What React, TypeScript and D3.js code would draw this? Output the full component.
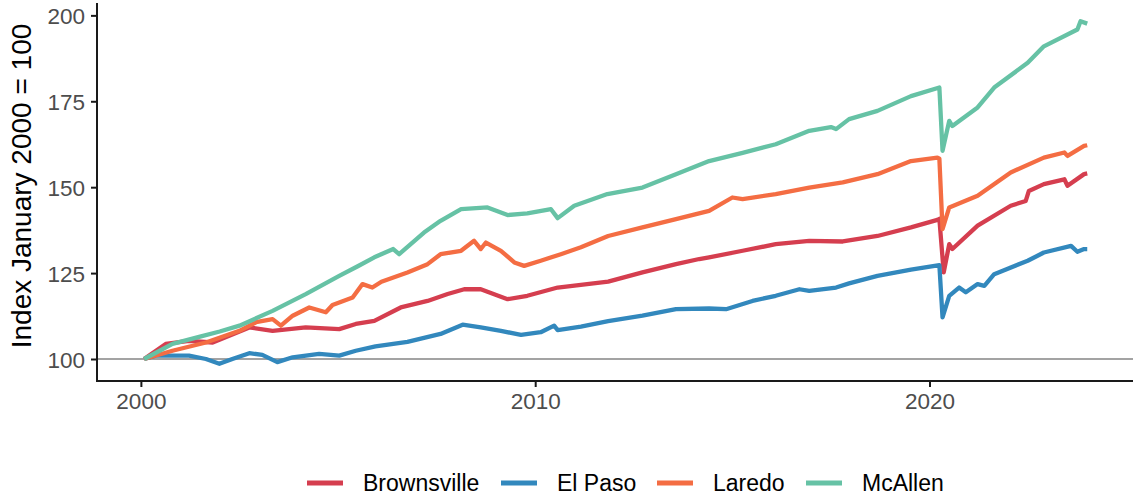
import React, { useEffect, useRef, ReactElement } from 'react'
import * as d3 from 'd3'

// readings: [decimal year, index value]
const brownsville: [number, number][] = [
  [2000.083, 100], [2000.63, 104.4], [2001.22, 105.3], [2001.82, 104.8], [2002.24, 106.8],
  [2002.75, 109.2], [2003.34, 108.2], [2004.18, 109.2], [2005.03, 108.7], [2005.45, 110.2],
  [2005.92, 111.1], [2006.59, 115], [2007.27, 116.9], [2007.78, 118.9], [2008.2, 120.3],
  [2008.62, 120.3], [2009.3, 117.4], [2009.8, 118.4], [2010.57, 120.8], [2011.85, 122.5],
  [2012.72, 125.2], [2013.57, 127.6], [2014.16, 129.1], [2014.41, 129.6], [2015.26, 131.5],
  [2016.1, 133.4], [2016.95, 134.4], [2017.8, 134.2], [2018.68, 135.8], [2019.53, 138.3],
  [2020.2, 140.5], [2020.25, 140.8], [2020.36, 125.2], [2020.5, 133.4], [2020.58, 132],
  [2021.22, 138.8], [2022.06, 144.6], [2022.44, 146], [2022.52, 148.9], [2022.9, 150.9],
  [2023.42, 152.3], [2023.5, 150.4], [2023.92, 153.8], [2024.0, 154]
]

const elPaso: [number, number][] = [
  [2000.083, 100], [2000.38, 101], [2001.22, 101], [2001.65, 100], [2001.99, 98.6],
  [2002.32, 100], [2002.75, 101.7], [2003.08, 101.2], [2003.46, 99.1], [2003.85, 100.5],
  [2004.52, 101.5], [2005.03, 101], [2005.45, 102.4], [2005.95, 103.7], [2006.76, 105],
  [2007.6, 107.3], [2008.16, 110], [2008.62, 109.2], [2009.13, 108.2], [2009.64, 107],
  [2010.14, 107.8], [2010.48, 109.7], [2010.57, 108.4], [2011.16, 109.4], [2011.85, 111],
  [2012.72, 112.6], [2013.57, 114.5], [2014.41, 114.7], [2014.84, 114.5], [2015.51, 116.9],
  [2016.1, 118.4], [2016.7, 120.3], [2016.95, 119.8], [2017.63, 120.8], [2017.96, 122],
  [2018.68, 124.2], [2019.53, 126], [2020.25, 127.3], [2020.33, 112.1], [2020.5, 118.4],
  [2020.75, 120.8], [2020.92, 119.4], [2021.22, 121.8], [2021.39, 121.3], [2021.64, 124.7],
  [2022.49, 128.6], [2022.9, 131], [2023.59, 132.9], [2023.75, 131.2], [2023.92, 132],
  [2024.0, 132]
]

const laredo: [number, number][] = [
  [2000.083, 100], [2000.8, 102.4], [2001.65, 104.8], [2002.5, 108.2], [2002.92, 110.7],
  [2003.34, 111.6], [2003.55, 109.7], [2003.85, 112.6], [2004.27, 115], [2004.69, 113.6],
  [2004.86, 115.7], [2005.37, 117.9], [2005.62, 121.8], [2005.87, 120.8], [2006.1, 122.5],
  [2006.76, 125.2], [2007.27, 127.6], [2007.6, 130.5], [2008.12, 131.5], [2008.45, 134.4],
  [2008.62, 132], [2008.75, 133.9], [2009.13, 131.5], [2009.47, 128.1], [2009.72, 127.1],
  [2010.14, 128.6], [2010.65, 130.5], [2011.16, 132.5], [2011.85, 135.8], [2012.72, 138.3],
  [2013.57, 140.7], [2014.41, 143.1], [2015.0, 147], [2015.26, 146.5], [2016.1, 148],
  [2016.95, 149.9], [2017.8, 151.4], [2018.68, 153.8], [2019.53, 157.6], [2020.2, 158.6],
  [2020.25, 158.3], [2020.33, 137.8], [2020.5, 144.1], [2021.22, 147.5], [2022.06, 154.3],
  [2022.9, 158.6], [2023.42, 160.1], [2023.5, 159.1], [2023.92, 162], [2024.0, 162.2]
]

const mcAllen: [number, number][] = [
  [2000.083, 100], [2000.8, 104.4], [2001.5, 106.5], [2002.0, 108], [2002.5, 109.7],
  [2003.34, 114], [2004.18, 118.9], [2005.03, 124.2], [2005.5, 127], [2005.92, 129.6],
  [2006.4, 132], [2006.55, 130.5], [2007.18, 136.8], [2007.6, 140.2], [2008.12, 143.6],
  [2008.79, 144.1], [2009.3, 141.9], [2009.8, 142.4], [2010.4, 143.6], [2010.57, 141],
  [2010.99, 144.6], [2011.83, 148], [2012.72, 149.9], [2013.57, 153.8], [2014.41, 157.6],
  [2015.26, 160], [2016.1, 162.5], [2016.95, 166.4], [2017.5, 167.5], [2017.63, 166.9],
  [2017.96, 169.8], [2018.68, 172.2], [2019.53, 176.5], [2020.25, 179], [2020.33, 160.6],
  [2020.5, 169.3], [2020.58, 167.8], [2021.22, 173.2], [2021.64, 179], [2022.49, 186.2],
  [2022.9, 191], [2023.75, 195.9], [2023.83, 198.3], [2024.0, 197.6]
]

const cities = ['Brownsville', 'El Paso', 'Laredo', 'McAllen']
const cityColors = ['#D53E4F', '#3288BD', '#F46D43', '#66C2A5']
const yTicks = [100, 125, 150, 175, 200]
const xTicks = [2000, 2010, 2020]

const FONT = '"Liberation Sans", Arial, sans-serif'

const App = (): ReactElement => {
  const ref = useRef<SVGSVGElement>(null)

  const drawChart = () => {
    const width = 1133
    const svg = d3.select(ref.current)
    svg.selectAll('*').remove()

    const left = 97
    const bottom = 381

    const x = d3.scaleLinear().domain([1998.887, 2025.196]).range([left, 1134.4])
    const y = d3.scaleLinear().domain([93.6, 203.6]).range([bottom, 3])

    const series = [brownsville, elPaso, laredo, mcAllen]

    // reference line at 100
    svg.append('line')
      .attr('x1', left).attr('x2', width)
      .attr('y1', y(100)).attr('y2', y(100))
      .attr('stroke', '#A3A3A3')
      .attr('stroke-width', 2)

    const line = d3.line<[number, number]>()
      .x(d => x(d[0]))
      .y(d => y(d[1]))

    svg.append('g')
      .selectAll('path')
      .data(series)
      .join('path')
      .attr('d', d => line(d))
      .attr('fill', 'none')
      .attr('stroke', (d, i) => cityColors[i])
      .attr('stroke-width', 4.3)
      .attr('stroke-linejoin', 'round')

    // axes
    const yAxis = svg.append('g').attr('transform', `translate(${left},0)`)
      .call(d3.axisLeft(y).tickValues(yTicks).tickSize(6).tickPadding(6))
    const xAxis = svg.append('g').attr('transform', `translate(0,${bottom})`)
      .call(d3.axisBottom(x).tickValues(xTicks).tickFormat(d3.format('d')).tickSize(6).tickPadding(6))

    for (const ax of [yAxis, xAxis]) {
      ax.select('.domain').remove()
      ax.selectAll('.tick line').attr('stroke', '#1A1A1A').attr('stroke-width', 2)
      ax.selectAll('.tick text')
        .attr('fill', '#4D4D4D')
        .style('font-family', FONT)
        .style('font-size', '22.5px')
    }
    yAxis.selectAll('.tick text').attr('dy', '0.36em')

    svg.append('line')
      .attr('x1', left).attr('x2', left)
      .attr('y1', 3).attr('y2', bottom + 1)
      .attr('stroke', '#1A1A1A').attr('stroke-width', 2)
    svg.append('line')
      .attr('x1', left - 1).attr('x2', width)
      .attr('y1', bottom).attr('y2', bottom)
      .attr('stroke', '#1A1A1A').attr('stroke-width', 2)

    // y title
    svg.append('text')
      .attr('transform', `translate(31,${(3 + bottom) / 2 - 6}) rotate(-90)`)
      .attr('text-anchor', 'middle')
      .style('font-family', FONT)
      .style('font-size', '28px')
      .attr('fill', '#000')
      .text('Index January 2000 = 100')

    // legend
    const legendX = [307, 501, 657, 806]
    const leg = svg.append('g')
      .selectAll('g')
      .data(cities)
      .join('g')
      .attr('transform', (d, i) => `translate(${legendX[i]},483)`)
    leg.append('line')
      .attr('x1', 0).attr('x2', 36)
      .attr('stroke', (d, i) => cityColors[i])
      .attr('stroke-width', 5)
    leg.append('text')
      .attr('x', 56)
      .attr('y', 7.5)
      .style('font-family', FONT)
      .style('font-size', '23px')
      .attr('fill', '#000')
      .text(d => d)
  }

  useEffect(drawChart, [])

  return (
    <svg
      ref={ref}
      width={1133}
      height={496}
      style={{ position: 'absolute', left: 0, top: 0, background: '#fff' }}
    />
  )
}

export default App
